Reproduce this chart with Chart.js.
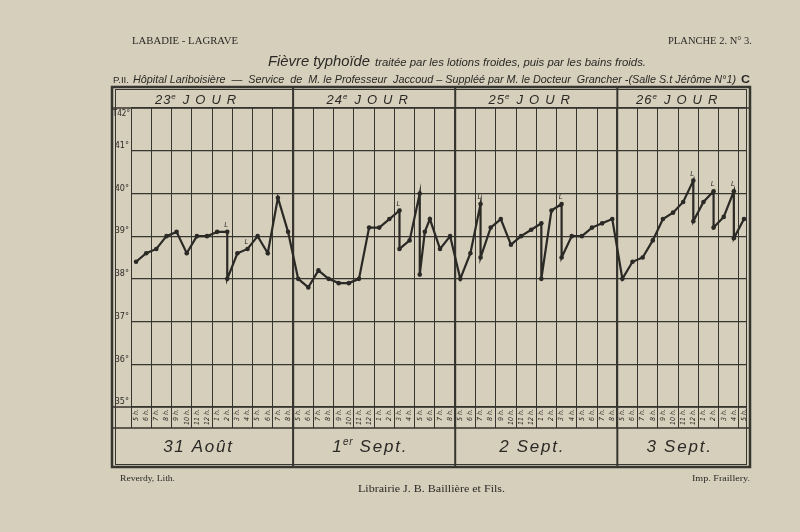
<!DOCTYPE html>
<html><head><meta charset="utf-8">
<script src="https://cdn.jsdelivr.net/npm/chart.js@4"></script>
<style>html,body{margin:0;padding:0;background:#d6d1bf;}canvas{display:block}</style>
</head><body>
<canvas id="c" width="800" height="532"></canvas>
<script>
// ---------- data ----------
const dayNumbers = ['23', '24', '25', '26'];
const dateDays = ['31', '1', '2', '3'];
const dateSups = ['', 'er', '', ''];
const dateMonths = ['Août', 'Sept.', 'Sept.', 'Sept.'];
const hourLabels = ['5 h.', '6 h.', '7 h.', '8 h.', '9 h.', '10 h.', '11 h.', '12 h.', '1 h.', '2 h.', '3 h.', '4 h.', '5 h.', '6 h.', '7 h.', '8 h.'];
const tempTicks = [35, 36, 37, 38, 39, 40, 41, 42];
// hour slots counted from 5 h. of the 23rd day (16 slots per day)
const slots = [
  0, 1, 2, 3, 4, 5, 6, 7, 8, 9, 9, 10, 11, 12, 13, 14, 15,
  16, 17, 18, 19, 20, 21, 22, 23, 24, 25, 26, 26, 27, 28, 28, 28.5, 29, 30, 31,
  32, 33, 34, 34, 35, 36, 37, 38, 39, 40, 40, 41, 42, 42, 43, 44, 45, 46, 47,
  48, 49, 50, 51, 52, 53, 54, 55, 55, 56, 57, 57, 58, 59, 59, 60
];
const temps = [
  38.4, 38.6, 38.7, 39.0, 39.1, 38.6, 39.0, 39.0, 39.1, 39.1, 38.0, 38.6, 38.7, 39.0, 38.6, 39.9, 39.1,
  38.0, 37.8, 38.2, 38.0, 37.9, 37.9, 38.0, 39.2, 39.2, 39.4, 39.6, 38.7, 38.9, 40.0, 38.1, 39.1, 39.4, 38.7, 39.0,
  38.0, 38.6, 39.75, 38.5, 39.2, 39.4, 38.8, 39.0, 39.15, 39.3, 38.0, 39.6, 39.75, 38.5, 39.0, 39.0, 39.2, 39.3, 39.4,
  38.0, 38.4, 38.5, 38.9, 39.4, 39.55, 39.8, 40.3, 39.35, 39.8, 40.05, 39.2, 39.45, 40.05, 38.95, 39.4
];
// slots where a lotion ("L") was given
const lotionSlots = [9, 11, 26, 34, 42, 55, 57, 59];

// ---------- styles ----------
const INK = '#2b2925';
const GRID = '#37352f';
const PAPER = '#d5cfbc';
const SANS = '"Liberation Sans", "DejaVu Sans", sans-serif';
const NARROW = '"Liberation Sans Narrow", "DejaVu Sans Condensed", "Liberation Sans", sans-serif';
const SERIF = '"Liberation Serif", "DejaVu Serif", serif';

function fitText(ctx, text, x0, x1, y, font) {
  ctx.font = font;
  const m = ctx.measureText(text).width;
  const s = (x1 - x0) / m;
  ctx.save(); ctx.translate(x0, y); ctx.scale(s, 1);
  ctx.textAlign = 'left'; ctx.fillText(text, 0, 0); ctx.restore();
}
function richWidth(ctx, segs) {
  let w = 0;
  for (const s of segs) { ctx.font = s.font; for (const ch of s.t) w += ctx.measureText(ch).width + (s.sp || 0); }
  return w;
}
function drawRich(ctx, segs, cx, y) {
  let x = cx - richWidth(ctx, segs) / 2;
  ctx.textAlign = 'left';
  for (const s of segs) {
    ctx.font = s.font;
    for (const ch of s.t) { ctx.fillText(ch, x, y + (s.dy || 0)); x += ctx.measureText(ch).width + (s.sp || 0); }
  }
}

const paperPlugin = {
  id: 'paper',
  beforeDraw(chart) {
    const ctx = chart.ctx;
    ctx.save(); ctx.fillStyle = PAPER; ctx.fillRect(0, 0, chart.width, chart.height); ctx.restore();
  }
};

const framePlugin = {
  id: 'frame',
  afterDatasetsDraw(chart) {
    const ctx = chart.ctx;
    const meta = chart.getDatasetMeta(0);
    ctx.save();
    ctx.fillStyle = INK;
    ctx.font = 'italic 7px ' + SANS;
    ctx.textAlign = 'center';
    for (const s of lotionSlots) {
      const i = slots.indexOf(s);
      const el = meta.data[i];
      if (el) ctx.fillText('L', el.x - 1, el.y - 5);
    }
    ctx.restore();
  },
  afterDraw(chart) {
    const ctx = chart.ctx;
    const ca = chart.chartArea;
    const xs = chart.scales.x;
    const L = 112, R = 750, T = 87, B = 467;
    const hourBottom = ca.bottom + 21;
    ctx.save();
    ctx.strokeStyle = GRID;
    // outer double frame
    ctx.lineWidth = 2.5; ctx.strokeRect(L, T, R - L, B - T);
    ctx.lineWidth = 1; ctx.strokeRect(L + 3.5, T + 2.5, ca.right - L - 3, B - T - 5);
    // row separators
    ctx.lineWidth = 1.4;
    ctx.beginPath();
    ctx.moveTo(L, ca.top); ctx.lineTo(R, ca.top);
    ctx.moveTo(L, ca.bottom); ctx.lineTo(ca.right, ca.bottom);
    ctx.moveTo(L, hourBottom); ctx.lineTo(R, hourBottom);
    ctx.stroke();
    // day dividers in header and date rows
    ctx.lineWidth = 2;
    ctx.beginPath();
    for (let d = 1; d < 4; d++) {
      const x = xs.getPixelForValue(d * 16);
      ctx.moveTo(x, T); ctx.lineTo(x, ca.top);
      ctx.moveTo(x, hourBottom); ctx.lineTo(x, B);
    }
    ctx.stroke();

    ctx.fillStyle = INK;
    ctx.textBaseline = 'alphabetic';
    // day headers & dates
    for (let d = 0; d < 4; d++) {
      const l = d === 0 ? L : xs.getPixelForValue(d * 16);
      const r = d === 3 ? R : xs.getPixelForValue((d + 1) * 16);
      const c = (l + r) / 2 - 4;
      drawRich(ctx, [
        { t: dayNumbers[d], font: 'italic 13px ' + SANS, sp: 1 },
        { t: 'e', font: 'italic 8px ' + SANS, dy: -5, sp: 7 },
        { t: 'JOUR', font: 'italic 13px ' + SANS, sp: 6 }
      ], c, ca.top - 4);
      const segs = [{ t: dateDays[d], font: 'italic 17px ' + SANS, sp: 1.5 }];
      if (dateSups[d]) segs.push({ t: dateSups[d], font: 'italic 10px ' + SANS, dy: -7, sp: 0.5 });
      segs.push({ t: ' ' + dateMonths[d], font: 'italic 17px ' + SANS, sp: 1.8 });
      drawRich(ctx, segs, (l + r) / 2 - 4, 452);
    }
    // T42° label
    ctx.font = '8px ' + NARROW; ctx.textAlign = 'right';
    ctx.fillText('T42°', ca.left - 1, ca.top + 8);

    // titles
    fitText(ctx, 'LABADIE - LAGRAVE', 132, 238, 44, '11px ' + SERIF);
    fitText(ctx, 'PLANCHE 2. N° 3.', 668, 752, 44, '11px ' + SERIF);
    fitText(ctx, 'Fièvre typhoïde', 268, 370, 66, 'italic 14px ' + SANS);
    fitText(ctx, 'traitée par les lotions froides, puis par les bains froids.', 375, 646, 66, 'italic 11px ' + SANS);
    fitText(ctx, 'P.II.', 113, 129, 83, '9px ' + SANS);
    fitText(ctx, 'Hôpital Lariboisière  —  Service  de  M. le Professeur  Jaccoud – Suppléé par M. le Docteur  Grancher -(Salle S.t Jérôme N°1)', 133, 736, 83, 'italic 11px ' + SANS);
    fitText(ctx, 'C', 741, 750, 83, 'bold 11px ' + SANS);
    // footer
    fitText(ctx, 'Reverdy, Lith.', 120, 175, 481, '8px ' + SERIF);
    fitText(ctx, 'Librairie J. B. Baillière et Fils.', 358, 505, 492, '10px ' + SERIF);
    fitText(ctx, 'Imp. Fraillery.', 692, 750, 481, '8px ' + SERIF);
    ctx.restore();
  }
};

new Chart(document.getElementById('c'), {
  type: 'line',
  data: {
    datasets: [{
      data: slots.map((s, i) => ({ x: s + 0.5, y: temps[i] })),
      borderColor: INK, borderWidth: 2.2,
      pointRadius: 2.3, pointBackgroundColor: INK, pointBorderWidth: 0,
      tension: 0, fill: false
    }]
  },
  options: {
    responsive: false, animation: false, devicePixelRatio: 1,
    layout: { padding: { left: 112, right: 54, top: 108, bottom: 104 } },
    plugins: { legend: { display: false }, tooltip: { enabled: false } },
    scales: {
      x: {
        type: 'linear', min: 0, max: 60.7, position: 'bottom',
        afterFit(s) { s.height = 21; },
        afterBuildTicks(s) {
          const t = [];
          for (let k = 0; k <= Math.floor(s.max); k++) {
            t.push({ value: k });
            if (k + 0.5 <= s.max) t.push({ value: k + 0.5 });
          }
          s.ticks = t;
        },
        grid: {
          color: c => (c.tick && c.tick.value % 2 === 0) ? GRID : 'rgba(0,0,0,0)',
          lineWidth: c => (c.tick && c.tick.value > 0 && c.tick.value % 16 === 0) ? 2.2 : 1,
          tickLength: 21, drawTicks: true
        },
        border: { display: false },
        ticks: {
          autoSkip: false, minRotation: 90, maxRotation: 90, padding: -19,
          font: { size: 7, style: 'italic', family: NARROW }, color: INK,
          callback: v => Number.isInteger(v) ? '' : hourLabels[Math.floor(v) % 16]
        }
      },
      y: {
        type: 'linear', min: tempTicks[0], max: tempTicks[tempTicks.length - 1],
        afterFit(s) { s.width = 19; },
        afterBuildTicks(s) { s.ticks = tempTicks.map(v => ({ value: v })); },
        ticks: {
          padding: 2, labelOffset: -5,
          font: { size: 9, family: NARROW }, color: INK,
          callback: v => v === 42 ? '' : v + '°'
        },
        grid: { color: GRID, lineWidth: 1.2, drawTicks: false },
        border: { display: false }
      }
    }
  },
  plugins: [paperPlugin, framePlugin]
});
</script>
</body></html>
